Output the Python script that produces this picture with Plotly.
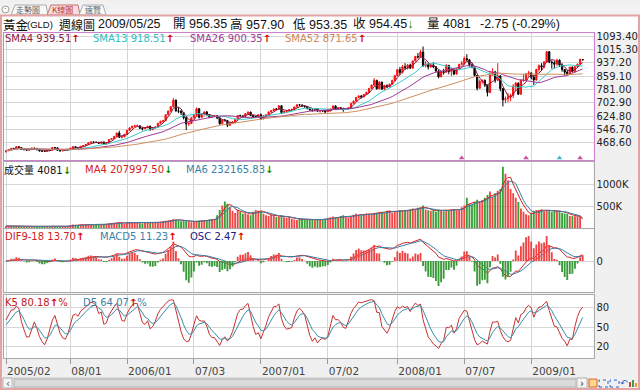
import plotly.graph_objects as go
import pandas as pd
import numpy as np

W, H = 640, 390
def fx(px): return px / W
def fy(py): return 1 - py / H

# ---------------- data (weekly gold, 2005/02/07 .. 2009/05/25) ----------------
dates = pd.date_range("2005-02-07", periods=225, freq="7D")

close = [
 421,427,435,432,445,439,428,428,424,430,436,435,426,420,418,417,425,424,440,438,423,420,422,424,429,436,445,440,437,447,451,458,467,472,471,470,465,473,460,468,487,492,505,525,500,503,517,
 541,555,565,567,567,553,550,557,565,545,555,560,582,593,597,632,654,680,718,655,653,644,615,578,580,614,630,668,617,633,649,633,618,622,626,614,579,602,599,570,585,589,605,628,626,622,639,648,628,620,620,632,
 609,626,631,648,656,666,664,685,645,652,655,662,663,678,691,690,683,680,668,660,656,667,653,656,655,650,655,666,684,664,673,670,663,667,673,699,712,734,743,737,751,763,787,806,834,785,824,783,803,796,812,834,862,
 897,881,914,909,924,906,948,975,972,1001,920,930,913,925,914,890,855,884,883,922,887,900,871,903,928,933,962,955,926,912,863,788,828,833,806,763,866,883,835,860,786,720,727,738,745,800,818,753,835,837,872,878,
 853,837,898,920,913,942,1003,942,938,929,953,924,898,882,871,912,886,914,930,957.2,954.45]

open_ = [
 414,421,427,435,432,445,439,428,428,424,430,436,435,426,420,418,417,425,424,440,438,423,420,422,424,429,436,445,440,437,447,451,458,467,472,471,470,465,473,460,468,487,492,505,525,500,503,
 517,541,555,565,567,567,553,550,557,565,545,555,560,582,593,597,632,654,680,718,655,653,644,615,578,580,614,630,668,617,633,649,633,618,622,626,614,579,602,599,570,585,589,605,628,626,622,639,648,628,620,620,
 632,609,626,631,648,656,666,664,685,645,652,655,662,663,678,691,690,683,680,668,660,656,667,653,656,655,650,655,666,684,664,673,670,663,667,673,699,712,734,743,737,751,763,787,806,834,785,824,783,803,796,812,834,
 862,897,881,914,909,924,906,948,975,972,1001,920,930,913,925,914,890,855,884,883,922,887,900,871,903,928,933,962,955,926,912,863,788,828,833,806,763,866,883,835,860,786,720,727,738,745,800,818,753,835,837,872,
 878,853,837,898,920,913,942,1003,942,938,929,953,924,898,882,871,912,886,914,930,956.35]

high = [
 423,430,437,438,447,446,441,431,430,432,438,439,436,428,423,420,427,428,442,443,439,425,425,427,431,438,447,447,442,449,454,460,470,474,476,474,472,475,474,470,489,496,508,527,538,508,520,
 544,559,568,573,575,570,558,560,567,567,558,563,585,598,602,635,656,684,730,722,676,660,646,620,592,616,636,675,670,638,652,654,636,626,631,629,616,604,607,601,589,594,609,631,633,628,642,651,650,630,625,635,
 640,628,634,652,660,669,672,689,687,656,660,665,669,680,693,695,692,686,682,670,664,672,670,659,660,658,658,668,686,688,677,677,673,671,676,702,716,737,745,748,755,768,790,810,848,838,830,826,808,811,816,838,866,
 900,913,925,935,930,932,950,976,995,1012,1033,947,935,933,940,918,893,888,902,930,925,905,904,907,931,948,975,988,960,935,915,866,838,840,840,808,890,905,890,935,865,790,740,760,755,812,825,822,840,870,877,890,
 880,862,903,928,935,948,1006,1005,952,947,962,958,935,900,895,913,915,918,932,962,957.9]

low = [
 411,419,424,429,431,434,426,423,421,422,428,431,424,418,415,414,415,421,423,433,420,417,418,420,422,427,434,438,434,435,444,449,456,465,468,466,462,463,457,458,466,485,490,503,496,493,500,
 516,538,552,560,562,548,540,548,554,538,541,551,558,578,588,595,630,650,676,650,642,631,605,542,566,578,610,626,610,612,628,628,612,612,618,606,574,576,592,560,567,580,586,603,620,616,620,636,625,615,616,618,
 603,605,622,629,645,653,660,662,636,640,641,652,659,660,676,683,678,674,664,656,652,654,650,645,650,642,648,653,664,660,661,664,650,660,664,671,697,710,730,728,734,748,761,785,803,780,782,778,780,790,793,810,831,
 857,865,875,897,898,902,904,945,962,968,913,910,898,908,906,880,847,853,868,880,870,860,865,868,897,922,925,945,915,905,856,775,786,815,795,740,758,862,820,830,770,681,700,705,712,730,772,748,750,826,834,860,
 840,808,832,885,890,905,938,935,903,905,920,913,885,864,865,865,880,880,908,925,953.35]

volume_k = [
 52,48,55,50,60,58,45,42,40,44,48,46,42,40,38,40,45,42,55,50,44,40,42,45,48,
 70,85,78,72,80,82,88,95,90,85,80,78,85,90,95,
 110,115,125,130,140,120,105,130,140,135,125,120,115,110,120,130,125,120,130,140,
 150,160,170,180,190,210,200,180,160,170,180,150,140,150,160,
 170,180,190,185,200,195,210,
 300,420,520,610,
 560,480,400,350,420,380,330,360,320,300,
 380,420,400,390,
 330,300,280,310,290,260,270,300,250,240,260,
 210,200,190,220,205,195,200,210,190,185,200,195,
 210,220,230,250,270,240,260,280,300,260,250,280,310,330,300,290,320,340,330,310,350,360,380,
 380,360,400,410,350,390,400,420,
 400,420,410,430,450,440,470,480,520,430,410,400,420,380,430,410,390,420,400,430,440,410,420,
 480,520,700,560,540,600,650,620,
 640,700,760,840,720,800,860,900,
 1410,1250,1100,900,800,700,600,450,
 380,320,300,350,
 400,420,410,430,390,420,400,380,410,400,390,
 350,340,330,
 281.005,280,275.909,278,274,4.081]

tick_dates = ["2005-02-07","2005-08-01","2006-01-02","2006-07-03","2007-01-01",
              "2007-07-02","2008-01-07","2008-07-07","2009-01-05"]
tick_labels = ["2005/02","08/01","2006/01","07/03","2007/01","07/02","2008/01","07/07","2009/01"]
price_ticks = [468.60,546.70,624.80,702.90,781.00,859.10,937.20,1015.30,1093.40]
event_dates = ["2008-06-30","2008-12-22","2009-03-23","2009-05-18"]
event_colors = ["#c8509c","#c8509c","#40b8c8","#c8509c"]

# ---------------- derived series ----------------
x = list(range(len(dates)))
tick_idx = [int(dates.get_loc(pd.Timestamp(d))) for d in tick_dates]
event_idx = [int(dates.get_loc(pd.Timestamp(d))) for d in event_dates]
c = pd.Series(close, dtype=float)
hi = pd.Series(high, dtype=float)
lo = pd.Series(low, dtype=float)
vol = pd.Series(volume_k, dtype=float) * 1000
sma = {n: c.rolling(n, min_periods=1).mean() for n in (4, 13, 26, 52)}
vma4 = vol.rolling(4, min_periods=1).mean()
vma6 = vol.rolling(6, min_periods=1).mean()
dif = c.ewm(span=9, adjust=False).mean() - c.ewm(span=18, adjust=False).mean()
macd = dif.ewm(span=5, adjust=False).mean()
osc = dif - macd
llv = lo.rolling(5, min_periods=1).min()
hhv = hi.rolling(5, min_periods=1).max()
rsv = ((c - llv) / (hhv - llv) * 100).fillna(50)
K, D = [], []
k, d = 50.0, 50.0
for r in rsv:
    k = k * 2 / 3 + r / 3
    d = d * 2 / 3 + k / 3
    K.append(k); D.append(d)

up = [cl >= op for cl, op in zip(close, open_)]
vcol = ["#f04646" if u else "#38a038" for u in up]
ocol = ["#ee4444" if v >= 0 else "#3a9a3a" for v in osc]

# ---------------- figure ----------------
fig = go.Figure()
for n, col in ((4, "#8b1a3a"), (13, "#3cc8c8"), (26, "#a03c96"), (52, "#d09060")):
    fig.add_trace(go.Scatter(x=x, y=sma[n], mode="lines", line=dict(color=col, width=1),
                             xaxis="x", yaxis="y"))
fig.add_trace(go.Candlestick(x=x, open=open_, high=high, low=low, close=close,
                             increasing=dict(line=dict(color="#ff1010", width=1), fillcolor="#ff1010"),
                             decreasing=dict(line=dict(color="#000000", width=1), fillcolor="#000000"),
                             whiskerwidth=0, xaxis="x", yaxis="y"))
fig.add_trace(go.Scatter(x=event_idx, y=[378] * len(event_idx), mode="markers",
                         marker=dict(symbol="triangle-up", size=5, color=event_colors),
                         xaxis="x", yaxis="y"))
fig.add_trace(go.Bar(x=x, y=vol, marker=dict(color=vcol, line=dict(width=0)), width=0.72,
                     xaxis="x2", yaxis="y2"))
fig.add_trace(go.Scatter(x=x, y=vma4, mode="lines", line=dict(color="#d82020", width=1), xaxis="x2", yaxis="y2"))
fig.add_trace(go.Scatter(x=x, y=vma6, mode="lines", line=dict(color="#3a7fa8", width=1), xaxis="x2", yaxis="y2"))
fig.add_trace(go.Bar(x=x, y=osc, marker=dict(color=ocol, line=dict(width=0)), width=0.72,
                     xaxis="x3", yaxis="y4"))
fig.add_trace(go.Scatter(x=x, y=dif, mode="lines", line=dict(color="#d82020", width=1), xaxis="x3", yaxis="y3"))
fig.add_trace(go.Scatter(x=x, y=macd, mode="lines", line=dict(color="#3a7fa8", width=1), xaxis="x3", yaxis="y3"))
fig.add_trace(go.Scatter(x=x, y=K, mode="lines", line=dict(color="#c83030", width=1), xaxis="x4", yaxis="y5"))
fig.add_trace(go.Scatter(x=x, y=D, mode="lines", line=dict(color="#3c8ca8", width=1), xaxis="x4", yaxis="y5"))

GRID = "#d6d6d6"
PINK = "#cf7fcf"
GRAY = "#a8a8a8"
tickfont = dict(family="DejaVu Sans", size=10, color="#222")
xr = [-0.78, 228.2]
xdom = [fx(4), fx(593.5)]
def xax(anchor, lc, labels=False):
    a = dict(domain=xdom, range=xr, anchor=anchor, tickvals=tick_idx, showgrid=True, gridcolor=GRID,
             gridwidth=1, zeroline=False, showline=True, mirror=True, linecolor=lc, linewidth=1,
             fixedrange=True, showticklabels=labels)
    if labels:
        a.update(ticktext=tick_labels, ticks="outside", ticklen=5, tickcolor="#999",
                 ticklabelposition="outside right", ticklabelstandoff=3,
                 tickfont=dict(family="DejaVu Sans", size=10.5, color="#444"))
    return a
def yax(dom, rng, lc, tv, tt):
    return dict(domain=[fy(dom[1]), fy(dom[0])], range=rng, side="right", tickvals=tv, ticktext=tt,
                showgrid=True, gridcolor=GRID, zeroline=False, showline=True, mirror=True,
                linecolor=lc, linewidth=1, fixedrange=True, tickfont=tickfont, ticks="")

a = max(dif.max() * 31.5 / 22, -dif.min() * 31.5 / 29, macd.max() * 31.5 / 22)
b = abs(osc).max() / 0.8
layout = dict(
    width=W, height=H, margin=dict(l=0, r=0, t=0, b=0), paper_bgcolor="#f0f0f0", plot_bgcolor="#ffffff",
    showlegend=False, hovermode=False, dragmode=False, bargap=0.3,
    xaxis=dict(xax("y", PINK), rangeslider=dict(visible=False)),
    xaxis2=xax("y2", GRAY), xaxis3=xax("y3", GRAY), xaxis4=xax("y5", GRAY, labels=True),
    yaxis=yax((30.5, 158.5), [364.9, 1110.8], PINK, price_ticks, ["%.2f" % v for v in price_ticks]),
    yaxis2=yax((160, 227), [0, 1522700], GRAY, [500000, 1000000], ["500K", "1000K"]),
    yaxis3=yax((228, 291.5), [-a, 1.016 * a], GRAY, [0], ["0"]),
    yaxis4=dict(overlaying="y3", range=[-b, 1.016 * b], visible=False, fixedrange=True),
    yaxis5=yax((294, 358), [1.55, 100.5], GRAY, [20, 50, 80], ["20", "50", "80"]),
)
fig.update_layout(**layout)

# ---------------- chrome: shapes & texts ----------------
shapes = []
def rect(x0, y0, x1, y1, fill=None, line=None, lw=1, layer="above", dash=None):
    s = dict(type="rect", xref="paper", yref="paper", x0=fx(x0), x1=fx(x1), y0=fy(y1), y1=fy(y0),
             layer=layer, line=dict(width=lw if line else 0, color=line or "rgba(0,0,0,0)"))
    if fill: s["fillcolor"] = fill
    if dash: s["line"]["dash"] = dash
    shapes.append(s)
def path(pts, fill=None, line="#999", lw=1, layer="above"):
    p = "M " + " L ".join("%f,%f" % (fx(px), fy(py)) for px, py in pts) + " Z"
    s = dict(type="path", xref="paper", yref="paper", path=p, layer=layer, line=dict(color=line, width=lw))
    if fill: s["fillcolor"] = fill
    shapes.append(s)

rect(0, 0, 640, 12.5, fill="#f2f2f2", layer="below")
rect(2, 13, 638, 29.5, fill="#ffffff", layer="below")
# tabs
shapes.append(dict(type="circle", xref="paper", yref="paper", x0=fx(2), x1=fx(9), y0=fy(10), y1=fy(3),
                   line=dict(color="#999", width=1), fillcolor="#ffffff"))
path([(11, 12), (15, 2), (46, 2), (48, 12)], fill="#f8f8f8", line="#aaa")
path([(47, 12), (51, 2), (78, 2), (80, 12)], fill="#f6dede", line="#c07070")
path([(79, 12), (83, 2), (103, 2), (106, 12)], fill="#f8f8f8", line="#aaa")
# frame
rect(1, 12.5, 639, 389, line="#e4a4a4", lw=2)
# scrollbar
rect(3, 378, 588, 388, fill="#e6e6e6", line="#c4c4c4", layer="below")
rect(3, 378, 12, 388, fill="#f4f4f4", line="#b8b8b8")
rect(14, 379, 576, 387, fill="#dadada", line="#b4b4b4")
rect(577, 378, 587, 388, fill="#f4f4f4", line="#b8b8b8")
rect(589, 379, 597, 387, fill="#ffd890", line="#e06020")
rect(599, 380, 608, 387, line="#3060c8", dash="dot")
rect(610, 380, 619, 387, line="#3060c8", dash="dot")
rect(629, 382, 631, 387, fill="#d04040")
rect(632, 380, 634, 387, fill="#40a040")
rect(635, 383, 637, 387, fill="#e0a020")

ann = []
def label(px, py, text, size=10, color="#000", family="DejaVu Sans", anchor="left"):
    ann.append(dict(xref="paper", yref="paper", x=fx(px), y=fy(py), text=text, showarrow=False,
                    xanchor=anchor, yanchor="middle", borderpad=0,
                    font=dict(size=size, color=color, family=family)))
UP = "<span style='color:#e00000'><b>↑</b></span>"
DN = "<span style='color:#0a8a0a'><b>↓</b></span>"
TAB = "Noto Sans CJK TC"
label(15, 7, "走勢圖", size=8, color="#666", family=TAB)
label(51, 7, "K線圖", size=8, color="#c03030", family=TAB)
label(84, 7, "速覽", size=8, color="#666", family=TAB)
label(5.5, 6.5, "·", size=8, color="#666", anchor="center")
label(7.5, 383, "‹", size=10, color="#555", anchor="center")
label(582, 383, "›", size=10, color="#222", anchor="center")
label(624, 383, "↶", size=9, color="#3060c8", anchor="center")

TF = "Liberation Sans, Noto Sans CJK TC"
label(2, 21.5, "黃金", size=12.5, color="#111", family=TAB)
label(26, 21.5, "(GLD)", size=9.5, color="#111", family="Liberation Sans")
label(58, 21.5, "週線圖", size=12, color="#111", family=TAB)
label(97, 21.5, "2009/05/25", size=12.5, color="#111", family="Liberation Sans")
label(172, 21.5, "開 956.35", size=12.5, color="#111", family=TF)
label(229, 21.5, "高 957.90", size=12.5, color="#111", family=TF)
label(292, 21.5, "低 953.35", size=12.5, color="#111", family=TF)
label(352, 21.5, "收 954.45" + DN, size=12.5, color="#111", family=TF)
label(426, 21.5, "量 4081", size=12.5, color="#111", family=TF)
label(479, 21.5, "-2.75 (-0.29%)", size=12.5, color="#111", family="Liberation Sans")

label(4, 36, "SMA4 939.51" + UP, color="#8b1a3a")
label(92, 36, "SMA13 918.51" + UP, color="#30c0c0")
label(189, 36, "SMA26 900.35" + UP, color="#a03c96")
label(284, 36, "SMA52 871.65" + UP, color="#d08850")

label(3, 168, "成交量 4081" + DN, color="#111", family="DejaVu Sans, Noto Sans CJK TC")
label(84, 168, "MA4 207997.50" + DN, color="#d02020")
label(185, 168, "MA6 232165.83" + DN, color="#3a7fa8")

label(4, 235, "DIF9-18 13.70" + UP, color="#d02020")
label(99, 235, "MACD5 11.23" + UP, color="#3a7fa8")
label(189, 235, "OSC 2.47" + UP, color="#202080")

label(4, 301.5, "K5 80.18" + UP + "%", color="#c02020")
label(82, 301.5, "D5 64.07" + UP + "%", color="#3a7fa8")

fig.update_layout(shapes=shapes, annotations=ann)
fig.write_html("out.html", config={"displayModeBar": False, "staticPlot": True},
               post_script="document.body.style.margin='0';document.body.style.padding='0';"
                           "document.body.style.overflow='hidden';")
